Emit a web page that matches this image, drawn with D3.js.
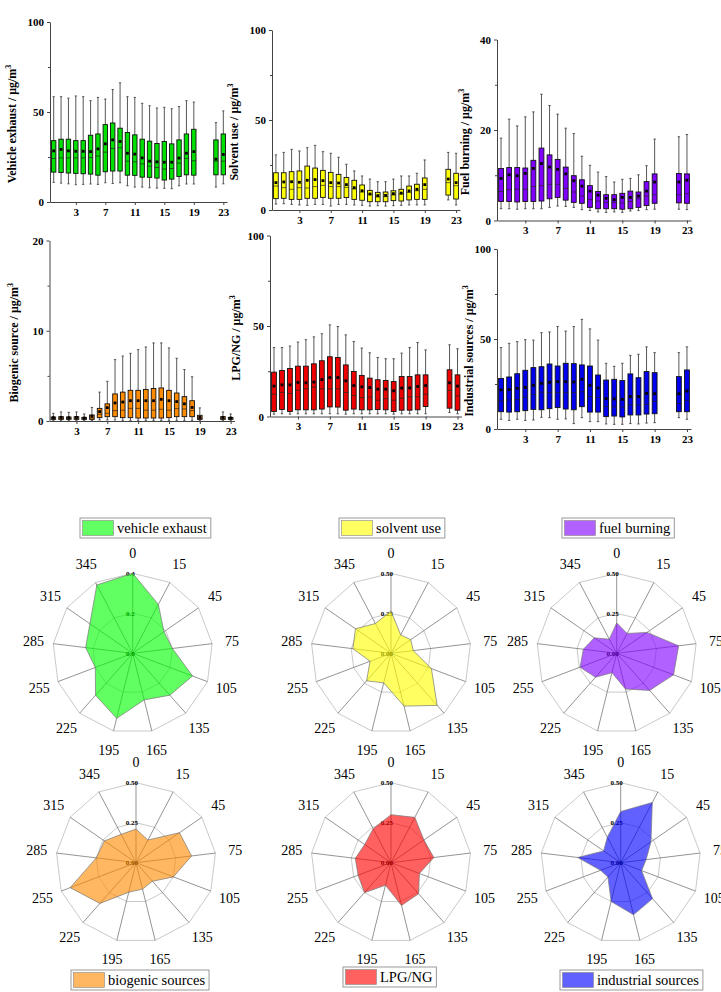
<!DOCTYPE html>
<html>
<head>
<meta charset="utf-8">
<script src="https://cdn.jsdelivr.net/npm/d3@7/dist/d3.min.js"></script>
<style>
  body { margin: 0; background: #fff; }
  svg { display: block; font-family: "Times New Roman", "Liberation Serif", serif; }
</style>
</head>
<body>
<svg id="chart" width="721" height="992"></svg>
<script>
// hours that have a box (20 and 21 are missing)
const hours = [0,1,2,3,4,5,6,7,8,9,10,11,12,13,14,15,16,17,18,19,22,23];
const hourTicks = [3,7,11,15,19,23];

// box stats per hour: [min, q1, median, q3, max, mean]
const vehicleExhaust = [
  [10.9,16.6,24.2,34.1,58.5,28.4],[10.5,16.4,24.5,34.9,58.5,29.2],[10.1,16.1,24.5,34.9,57.7,28.4],
  [9.6,15.9,24.5,34.1,58.9,28.2],[9.8,15.7,24.5,34.1,58.5,28.2],[10.0,15.5,24.7,37.1,56.3,28.0],
  [9.8,14.9,25.5,37.8,58.1,29.5],[10.7,16.8,27.7,43.0,57.2,32.3],[10.3,17.2,29.7,43.9,62.5,34.5],
  [10.7,17.2,30.1,41.0,66.2,33.6],[9.0,14.9,22.7,38.6,58.5,27.1],[8.3,14.8,22.3,37.3,58.1,26.6],
  [8.3,13.8,21.2,34.9,54.8,24.5],[7.9,13.7,19.9,33.8,53.5,22.7],[7.7,13.3,19.2,32.5,52.2,22.3],
  [7.6,12.2,18.3,33.6,52.6,22.1],[7.4,12.7,18.6,32.3,51.8,22.1],[9.0,14.2,21.6,34.5,53.0,24.4],
  [10.0,15.1,24.2,37.8,56.3,27.1],[10.0,14.9,22.9,40.4,55.5,28.0],[8.3,15.1,22.7,34.5,44.1,23.8],
  [10.1,15.1,22.7,37.8,50.6,26.4]
];
const solventUse = [
  [3.3,6.3,13.3,20.7,30.6,15.2],[3.5,6.5,12.4,20.7,32.0,15.6],[3.1,5.9,11.5,21.3,33.7,15.7],
  [2.8,5.9,12.4,21.7,32.8,15.4],[2.6,6.5,12.2,24.4,34.6,16.5],[3.1,6.5,13.0,23.3,35.9,16.9],
  [3.1,7.0,13.7,22.0,32.4,16.3],[2.2,6.5,13.0,20.9,31.5,15.2],[3.1,6.5,13.0,19.8,29.3,15.0],
  [3.1,6.9,12.6,18.1,25.4,14.1],[2.8,5.9,11.7,16.5,21.7,12.4],[2.6,5.4,10.0,13.9,18.9,10.7],
  [2.2,4.6,8.5,10.9,17.2,8.9],[2.4,4.6,7.2,9.8,15.7,8.0],[2.2,4.6,7.4,10.0,15.7,8.1],
  [2.4,5.2,8.3,10.7,17.2,9.1],[2.6,5.0,8.9,11.5,18.9,9.4],[2.8,5.6,9.8,13.3,18.9,10.6],
  [2.8,5.9,10.7,14.3,20.4,11.5],[2.8,5.9,11.5,17.8,27.8,14.1],[5.6,8.3,15.2,22.6,32.0,17.2],
  [2.8,6.1,13.5,20.4,31.5,15.2]
];
const fuelBurning = [
  [2.6,4.2,6.4,11.5,18.2,9.3],[2.6,4.2,6.8,11.7,22.4,10.1],[2.5,4.1,6.9,11.7,20.9,9.9],
  [2.6,4.2,6.9,11.6,22.9,10.4],[2.6,4.2,7.5,13.3,24.0,11.5],[2.6,4.3,7.7,16.0,27.9,12.6],
  [2.9,4.8,8.0,14.5,25.4,11.8],[3.2,5.1,8.0,13.5,23.5,11.3],[3.1,4.5,7.1,11.8,20.4,10.3],
  [2.9,4.0,6.3,9.9,19.2,8.8],[2.4,3.8,5.4,9.0,14.2,7.6],[2.2,2.9,4.6,7.7,12.2,6.5],
  [1.9,2.6,4.3,6.4,10.7,5.6],[1.8,2.6,4.0,5.7,9.7,4.9],[1.9,2.6,4.0,5.7,8.5,4.6],
  [1.8,2.5,3.9,6.0,9.1,5.1],[2.1,2.6,4.2,6.5,9.3,5.1],[2.2,2.9,4.8,6.3,10.1,5.4],
  [2.4,3.3,5.4,8.6,12.1,6.5],[2.5,3.8,5.7,10.3,18.0,8.5],[2.5,3.9,5.7,10.4,18.5,8.5],
  [2.4,3.8,5.9,10.3,19.0,8.9]
];
const biogenicSource = [
  [0.07,0.18,0.30,0.44,0.85,0.37],[0.07,0.18,0.30,0.48,1.0,0.40],[0.07,0.18,0.30,0.44,0.96,0.37],
  [0.07,0.18,0.30,0.48,1.0,0.40],[0.07,0.18,0.26,0.40,0.78,0.33],[0.07,0.18,0.33,0.67,1.5,0.52],
  [0.11,0.37,0.74,1.4,3.2,1.04],[0.11,0.48,0.85,1.9,4.4,1.48],[0.11,0.48,1.15,3.0,6.8,2.0],
  [0.07,0.37,1.2,3.2,7.2,2.1],[0.07,0.37,1.4,3.4,7.5,2.25],[0.07,0.33,1.4,3.4,7.9,2.25],
  [0.07,0.33,1.2,3.5,8.2,2.25],[0.07,0.33,1.2,3.6,8.65,2.25],[0.07,0.33,1.3,3.66,8.65,2.4],
  [0.07,0.37,1.2,3.4,8.1,2.25],[0.07,0.48,1.37,3.1,6.95,2.15],[0.07,0.48,1.33,2.7,5.7,1.9],
  [0.07,0.48,1.15,2.25,4.9,1.5],[0.07,0.18,0.30,0.63,1.45,0.40],[0.07,0.18,0.30,0.48,1.0,0.40],
  [0.07,0.18,0.26,0.40,0.78,0.33]
];
const lpgNg = [
  [1.3,2.8,12.3,24.5,38.1,16.8],[1.5,3.9,13.3,25.4,38.1,17.5],[1.3,2.8,12.7,26.5,38.9,17.5],
  [1.5,3.7,14.5,27.8,41.1,18.8],[1.5,3.7,15.3,27.8,42.4,18.6],[1.5,3.7,16.2,29.1,44.0,19.0],
  [1.5,4.1,15.3,30.8,45.7,20.4],[1.5,5.3,15.3,33.0,50.6,21.5],[1.5,5.2,15.3,32.6,49.7,21.5],
  [1.3,3.5,13.3,28.5,45.1,19.7],[1.5,4.1,11.6,24.9,41.4,17.1],[1.5,3.7,10.5,22.7,37.8,16.4],
  [1.5,3.7,10.7,21.2,35.2,16.0],[1.5,3.9,9.0,20.3,32.6,15.1],[1.5,3.7,9.8,19.9,31.9,15.1],
  [1.3,2.8,9.0,19.3,31.9,14.2],[1.5,3.5,10.1,22.1,35.0,15.7],[1.5,3.5,10.9,22.1,38.1,15.8],
  [1.5,3.7,10.9,23.0,40.9,16.6],[1.5,5.5,12.3,23.0,36.8,17.1],[2.2,4.6,14.4,25.8,39.6,18.6],
  [1.5,3.5,11.4,23.0,37.4,16.8]
];
const industrialSources = [
  [5.4,9.6,15.6,28.1,45.2,21.7],[4.8,9.4,16.1,28.9,47.6,21.9],[5.4,9.6,16.3,30.7,48.5,22.6],
  [4.8,10.2,17.6,32.6,49.6,23.1],[5.0,10.9,19.1,34.1,49.4,24.3],[6.5,10.7,20.4,34.6,53.5,25.4],
  [6.3,11.3,20.2,36.1,53.9,25.9],[5.4,11.9,20.2,35.0,56.9,26.3],[5.6,11.1,20.2,36.5,54.4,26.3],
  [3.0,10.7,20.2,36.3,56.9,26.1],[6.3,12.4,20.7,35.6,60.9,27.6],[4.1,9.4,18.0,35.0,55.6,24.3],
  [4.1,9.4,17.6,30.0,49.4,22.8],[2.8,6.9,12.4,27.2,36.5,16.9],[2.6,7.2,12.2,27.6,34.8,16.7],
  [2.6,6.7,12.2,26.9,36.5,16.5],[3.0,7.8,13.3,30.6,40.9,18.0],[2.8,7.8,13.3,28.5,41.5,18.0],
  [3.3,8.3,13.7,31.9,45.6,19.8],[3.5,8.5,15.4,31.3,42.4,19.6],[6.3,9.6,14.1,29.1,42.4,19.6],
  [5.4,9.6,15.9,32.8,45.6,21.1]
];

// wind direction roses
const directions = [0,15,45,75,105,135,165,195,225,255,285,315,345];
const roseVehicle    = [0.40,0.276,0.19,0.20,0.32,0.28,0.24,0.335,0.28,0.20,0.237,0.26,0.386];
const roseSolvent    = [0.265,0.13,0.15,0.14,0.27,0.435,0.34,0.19,0.23,0.14,0.24,0.27,0.21];
const roseFuel       = [0.19,0.14,0.23,0.39,0.38,0.31,0.23,0.125,0.20,0.245,0.21,0.17,0.10];
const roseBiogenic   = [0.21,0.16,0.33,0.35,0.25,0.155,0.17,0.19,0.34,0.44,0.25,0.24,0.20];
const roseLpg        = [0.30,0.32,0.25,0.27,0.19,0.26,0.275,0.145,0.25,0.22,0.225,0.20,0.24];
const roseIndustrial = [0.32,0.425,0.23,0.16,0.14,0.30,0.335,0.25,0.12,0.135,0.27,0.13,0.18];

const svg = d3.select('#chart');

// ---------- box plots ----------
const panels = [
  { data: vehicleExhaust, color: '#00e000', label: 'Vehicle exhaust', yMax: 100, x0: 50, x1: 227, top: 22, bot: 202, lx: 16 },
  { data: solventUse, color: '#ffff00', label: 'Solvent use', yMax: 100, x0: 272, x1: 460, top: 30, bot: 210, lx: 238 },
  { data: fuelBurning, color: '#8000ff', label: 'Fuel burning', yMax: 40, x0: 497, x1: 691, top: 39.5, bot: 220.5, lx: 469 },
  { data: biogenicSource, color: '#ff8c00', label: 'Biogenic source', yMax: 20, x0: 49.5, x1: 234.5, top: 240.5, bot: 421, lx: 18 },
  { data: lpgNg, color: '#ee0000', label: 'LPG/NG', yMax: 100, x0: 270, x1: 461.5, top: 235.5, bot: 416.5, lx: 240 },
  { data: industrialSources, color: '#0000ee', label: 'Industrial sources', yMax: 100, x0: 497, x1: 691, top: 249, bot: 429, lx: 473 }
];

function boxPanel(p) {
  const x = d3.scaleLinear().domain([-0.5, 23.5]).range([p.x0, p.x1]);
  const y = d3.scaleLinear().domain([0, p.yMax]).range([p.bot, p.top]);
  const step = x(1) - x(0);
  const bw = step * 0.6;
  const cw = bw * 0.5;
  const rows = p.data.map((s, i) => ({ h: hours[i], min: s[0], q1: s[1], med: s[2], q3: s[3], max: s[4], mean: s[5] }));
  const g = svg.append('g');

  const b = g.selectAll('g.box').data(rows).join('g').attr('class', 'box');
  // whiskers
  b.append('line')
    .attr('x1', d => x(d.h)).attr('x2', d => x(d.h))
    .attr('y1', d => y(d.max)).attr('y2', d => y(d.min))
    .attr('stroke', '#444').attr('stroke-width', 0.9);
  ['max', 'min'].forEach(k => {
    b.append('line')
      .attr('x1', d => x(d.h) - cw / 2).attr('x2', d => x(d.h) + cw / 2)
      .attr('y1', d => y(d[k])).attr('y2', d => y(d[k]))
      .attr('stroke', '#444').attr('stroke-width', 0.9);
  });
  b.append('rect')
    .attr('x', d => x(d.h) - bw / 2).attr('width', bw)
    .attr('y', d => y(d.q3)).attr('height', d => Math.max(0.8, y(d.q1) - y(d.q3)))
    .attr('fill', p.color).attr('stroke', '#111').attr('stroke-width', 0.9);
  b.append('line')
    .attr('x1', d => x(d.h) - bw / 2).attr('x2', d => x(d.h) + bw / 2)
    .attr('y1', d => y(d.med)).attr('y2', d => y(d.med))
    .attr('stroke', '#222').attr('stroke-width', 0.7);
  b.append('rect')
    .attr('x', d => x(d.h) - 1.4).attr('y', d => y(d.mean) - 1.4)
    .attr('width', 2.8).attr('height', 2.8).attr('fill', '#000');

  // axes
  const xAxis = g.append('g').attr('transform', `translate(0,${p.bot})`)
    .call(d3.axisBottom(x).tickValues(hourTicks).tickSize(3).tickPadding(3).tickSizeOuter(0));
  const yAxis = g.append('g').attr('transform', `translate(${p.x0},0)`)
    .call(d3.axisLeft(y).tickValues([0, p.yMax / 2, p.yMax]).tickSize(3).tickPadding(3).tickSizeOuter(0));
  g.append('g').attr('transform', `translate(${p.x0},0)`)
    .call(d3.axisLeft(y).tickValues([p.yMax / 4, p.yMax * 3 / 4]).tickSize(2).tickFormat('').tickSizeOuter(0))
    .select('.domain').remove();
  g.selectAll('.domain, .tick line').attr('stroke', '#444');
  [xAxis, yAxis].forEach(a => a.selectAll('text')
    .attr('font-family', '"Times New Roman", "Liberation Serif", serif')
    .attr('font-size', 11).attr('font-weight', 'bold').attr('fill', '#000'));

  // y label
  const t = g.append('text')
    .attr('transform', `translate(${p.lx},${(p.top + p.bot) / 2 + 12}) rotate(-90)`)
    .attr('text-anchor', 'middle').attr('font-size', 12).attr('font-weight', 'bold');
  t.append('tspan').text(p.label + ' / μg/m');
  t.append('tspan').text('3').attr('font-size', 8).attr('dy', -5);
}
panels.forEach(boxPanel);

// ---------- wind roses ----------
const roses = [
  { values: roseVehicle, max: 0.4, fmt: '.1f', fill: '#00ff00', cx: 132.7, cy: 653.3, legend: 'vehicle exhaust', lx: 80, ly: 518 },
  { values: roseSolvent, max: 0.5, fmt: '.2f', fill: '#ffff00', cx: 391, cy: 653.3, legend: 'solvent use', lx: 339, ly: 518 },
  { values: roseFuel, max: 0.5, fmt: '.2f', fill: '#8000ff', cx: 616.7, cy: 653.3, legend: 'fuel burning', lx: 562, ly: 518 },
  { values: roseBiogenic, max: 0.5, fmt: '.2f', fill: '#ff8c00', cx: 136, cy: 862.7, legend: 'biogenic sources', lx: 71, ly: 970 },
  { values: roseLpg, max: 0.5, fmt: '.2f', fill: '#ff0000', cx: 391, cy: 862.7, legend: 'LPG/NG', lx: 343, ly: 967 },
  { values: roseIndustrial, max: 0.5, fmt: '.2f', fill: '#0000ff', cx: 620.7, cy: 862.7, legend: 'industrial sources', lx: 560, ly: 970 }
];
const R = 80;

function rose(r) {
  const n = directions.length;
  const ang = d3.scaleLinear().domain([0, n]).range([0, 2 * Math.PI]);
  const rad = d3.scaleLinear().domain([0, r.max]).range([0, R]);
  const g = svg.append('g').attr('transform', `translate(${r.cx},${r.cy})`);
  const ring = d3.lineRadial().angle((d, i) => ang(i)).radius(d => rad(d)).curve(d3.curveLinearClosed);

  [r.max / 2, r.max].forEach(v => {
    g.append('path').attr('d', ring(directions.map(() => v)))
      .attr('fill', 'none').attr('stroke', '#bbb').attr('stroke-width', 0.8);
  });
  g.selectAll('line.spoke').data(directions).join('line')
    .attr('x1', 0).attr('y1', 0)
    .attr('x2', (d, i) => rad(r.max) * Math.sin(ang(i)))
    .attr('y2', (d, i) => -rad(r.max) * Math.cos(ang(i)))
    .attr('stroke', '#666').attr('stroke-width', 0.7);
  g.selectAll('text.rl').data([0, r.max / 2, r.max]).join('text')
    .attr('x', 2).attr('y', d => -rad(d) + 2.5)
    .attr('text-anchor', 'end').attr('font-size', 7).attr('font-weight', 'bold')
    .text(d => d3.format(r.fmt)(d));

  g.append('path').attr('d', ring(r.values))
    .attr('fill', r.fill).attr('fill-opacity', 0.62)
    .attr('stroke', '#777').attr('stroke-width', 0.7);

  g.selectAll('text.dir').data(directions).join('text')
    .attr('x', (d, i) => 100 * Math.sin(ang(i)))
    .attr('y', (d, i) => -100 * Math.cos(ang(i)))
    .attr('text-anchor', 'middle').attr('dominant-baseline', 'central')
    .attr('font-size', 14).text(d => d);

  // legend
  const lg = svg.append('g').attr('transform', `translate(${r.lx},${r.ly})`);
  const txt = lg.append('text').attr('x', 37).attr('y', 15).attr('font-size', 14.5).text(r.legend);
  const w = txt.node().getComputedTextLength() + 41;
  lg.insert('rect', 'text').attr('width', w).attr('height', 20)
    .attr('fill', '#fff').attr('stroke', '#999').attr('stroke-width', 1);
  lg.insert('rect', 'text').attr('x', 2.5).attr('y', 2.5).attr('width', 31).attr('height', 15)
    .attr('fill', r.fill).attr('fill-opacity', 0.62).attr('stroke', '#888').attr('stroke-width', 0.6);
}
roses.forEach(rose);
</script>
</body>
</html>
